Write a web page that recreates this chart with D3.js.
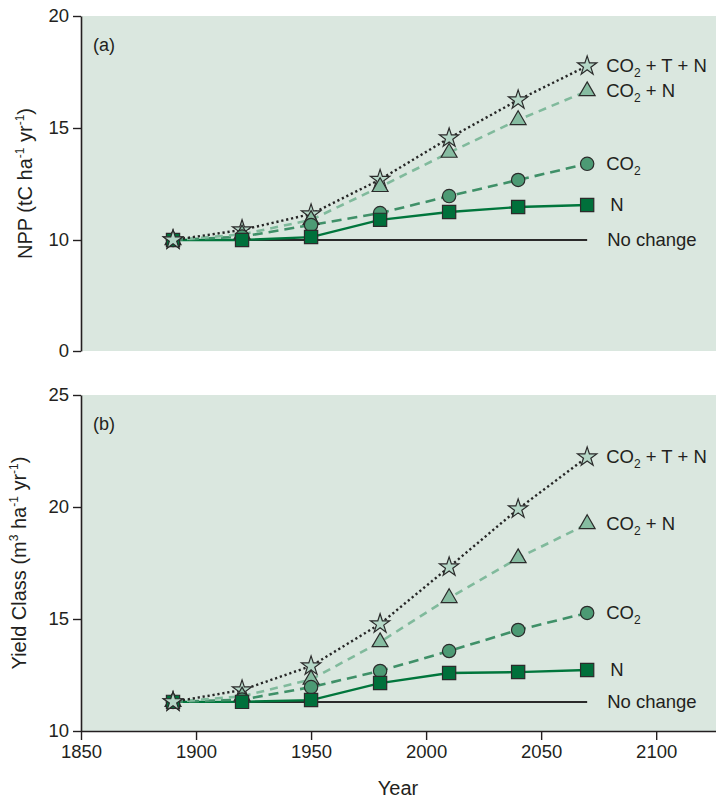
<!DOCTYPE html>
<html>
<head>
<meta charset="utf-8">
<script src="https://cdn.jsdelivr.net/npm/d3@7"></script>
<style>
  body { margin: 0; background: #ffffff; }
  text { font-family: "Liberation Sans", Arial, Helvetica, sans-serif; fill: #231f20; }
</style>
</head>
<body>
<svg id="chart" width="716" height="800"></svg>
<script>
// Projection years
const years = [1890, 1920, 1950, 1980, 2010, 2040, 2070];

// (a) Net primary productivity, tC ha-1 yr-1
const nppNoChange = [10, 10, 10, 10, 10, 10, 10];
const nppN        = [10, 10, 10.13, 10.9, 11.25, 11.47, 11.56];
const nppCO2      = [10, 10.15, 10.67, 11.2, 11.96, 12.68, 13.4];
const nppCO2N     = [10, 10.25, 10.9, 12.37, 13.9, 15.36, 16.65];
const nppCO2TN    = [10, 10.45, 11.16, 12.7, 14.55, 16.25, 17.77];

// (b) Yield class, m3 ha-1 yr-1
const ycNoChange = [11.3, 11.3, 11.3, 11.3, 11.3, 11.3, 11.3];
const ycN        = [11.3, 11.3, 11.38, 12.14, 12.59, 12.63, 12.72];
const ycCO2      = [11.3, 11.4, 11.96, 12.68, 13.57, 14.51, 15.27];
const ycCO2N     = [11.3, 11.55, 12.3, 13.97, 15.94, 17.72, 19.24];
const ycCO2TN    = [11.3, 11.83, 12.9, 14.78, 17.32, 19.91, 22.23];

// Axis ticks
const xTicks = [1850, 1900, 1950, 2000, 2050, 2100];
const nppTicks = [0, 10, 15, 20];
const ycTicks = [10, 15, 20, 25];

// Scenario keys (draw order) and label text parts [main, subscript, rest]
const scenarios = ["none", "N", "CO2", "CO2N", "CO2TN"];
const scenarioLabels = {
  none:  ["No change", "", ""],
  N:     ["N", "", ""],
  CO2:   ["CO", "2", ""],
  CO2N:  ["CO", "2", " + N"],
  CO2TN: ["CO", "2", " + T + N"]
};

// Styling per scenario
const styles = {
  none:  { line: "#2a2a2a", width: 2,   dash: null,      symbol: null,              fill: null,      size: 0,   labelDx: 20 },
  N:     { line: "#00763c", width: 2.4, dash: null,      symbol: d3.symbolSquare,   fill: "#00703b", size: 175, labelDx: 23 },
  CO2:   { line: "#3f9068", width: 2.6, dash: "10,6",    symbol: d3.symbolCircle,   fill: "#4c9a74", size: 140, labelDx: 19 },
  CO2N:  { line: "#80ba9c", width: 2.6, dash: "8,6",     symbol: d3.symbolTriangle, fill: "#86bca1", size: 110, labelDx: 19 },
  CO2TN: { line: "#262626", width: 2.4, dash: "2.2,2.8", symbol: d3.symbolStar,     fill: "#b5d7c7", size: 115, labelDx: 19 }
};

const svg = d3.select("#chart");
const left = 81, right = 716;
const x = d3.scaleLinear().domain([1850, 2126]).range([left, right]);
const bg = "#dae7df";

function drawPanel(opt) {
  const g = svg.append("g");
  const y = opt.y;

  g.append("rect")
    .attr("x", left).attr("y", opt.top)
    .attr("width", right - left).attr("height", opt.bottom - opt.top)
    .attr("fill", bg);

  const line = d3.line().x((d, i) => x(years[i])).y(d => y(d));

  // Lines
  scenarios.forEach(k => {
    const s = styles[k];
    g.append("path")
      .datum(opt.data[k])
      .attr("d", line)
      .attr("fill", "none")
      .attr("stroke", s.line)
      .attr("stroke-width", s.width)
      .attr("stroke-dasharray", s.dash);
  });

  // Markers, stars first so the others sit over them
  const markerOrder = ["CO2TN", "CO2N", "CO2", "N"];
  markerOrder.forEach(k => {
    const s = styles[k];
    g.append("g").selectAll("path")
      .data(opt.data[k])
      .join("path")
      .attr("transform", (d, i) => `translate(${x(years[i])},${y(d)})`)
      .attr("d", d3.symbol(s.symbol, s.size))
      .attr("fill", s.fill)
      .attr("stroke", "#2b2b2b")
      .attr("stroke-width", 1.2);
  });
  // Common starting point: the star marker shows on top
  {
    const s = styles.CO2TN;
    g.append("path")
      .attr("transform", `translate(${x(years[0])},${y(opt.data.CO2TN[0])})`)
      .attr("d", d3.symbol(s.symbol, s.size))
      .attr("fill", s.fill)
      .attr("stroke", "#2b2b2b")
      .attr("stroke-width", 1.2);
  }

  // End-of-line labels
  scenarios.forEach(k => {
    const s = styles[k];
    const vals = opt.data[k];
    const last = vals[vals.length - 1];
    const parts = scenarioLabels[k];
    const t = g.append("text")
      .attr("x", x(years[years.length - 1]) + s.labelDx)
      .attr("y", y(last) + 6)
      .attr("font-size", 18.5);
    t.append("tspan").text(parts[0]);
    if (parts[1]) {
      t.append("tspan").attr("dy", 5).attr("font-size", 12).text(parts[1]);
      if (parts[2]) t.append("tspan").attr("dy", -5).text(parts[2]);
    }
  });

  // Panel tag
  g.append("text")
    .attr("x", 93).attr("y", opt.top + 35)
    .attr("font-size", 18)
    .text(opt.tag);

  // Left axis
  const ay = g.append("g")
    .attr("transform", `translate(${left},0)`)
    .call(d3.axisLeft(y).tickValues(opt.ticks).tickSize(8).tickSizeOuter(0).tickPadding(4));
  ay.selectAll("text").attr("font-size", 18.5).attr("font-family", null).style("fill", "#231f20");
  ay.selectAll("line").attr("stroke", "#231f20").attr("stroke-width", 1.4);
  ay.select(".domain").attr("stroke", "#231f20").attr("stroke-width", 1.6);

  // Y title
  const cy = (opt.top + opt.bottom) / 2;
  const tt = g.append("text")
    .attr("transform", `translate(${opt.titleX},${cy}) rotate(-90)`)
    .attr("text-anchor", "middle")
    .attr("font-size", 20);
  opt.title.forEach(p => {
    const sp = tt.append("tspan").text(p[0]);
    if (p[1] === "sup") sp.attr("font-size", 12).attr("dy", -8);
    if (p[1] === "base") sp.attr("dy", 8);
  });

  return g;
}

drawPanel({
  top: 16, bottom: 351,
  y: d3.scaleLinear().domain([0, 10, 20]).range([351, 240, 16]),
  ticks: nppTicks,
  tag: "(a)",
  data: { none: nppNoChange, N: nppN, CO2: nppCO2, CO2N: nppCO2N, CO2TN: nppCO2TN },
  titleX: 32,
  title: [["NPP (tC ha"], ["-1", "sup"], [" yr", "base"], ["-1", "sup"], [")", "base"]]
});

drawPanel({
  top: 395, bottom: 731,
  y: d3.scaleLinear().domain([10, 25]).range([731, 395]),
  ticks: ycTicks,
  tag: "(b)",
  data: { none: ycNoChange, N: ycN, CO2: ycCO2, CO2N: ycCO2N, CO2TN: ycCO2TN },
  titleX: 26,
  title: [["Yield Class (m"], ["3", "sup"], [" ha", "base"], ["-1", "sup"], [" yr", "base"], ["-1", "sup"], [")", "base"]]
});

// Shared year axis under panel (b)
const ax = svg.append("g")
  .attr("transform", "translate(0,731)")
  .call(d3.axisBottom(x).tickValues(xTicks).tickFormat(d3.format("d")).tickSize(9).tickSizeOuter(0).tickPadding(5));
ax.selectAll("text").attr("font-size", 18.5).attr("font-family", null).style("fill", "#231f20");
ax.selectAll("line").attr("stroke", "#231f20").attr("stroke-width", 1.4);
ax.select(".domain").attr("stroke", "#231f20").attr("stroke-width", 1.6);

svg.append("text")
  .attr("x", 398).attr("y", 795)
  .attr("text-anchor", "middle")
  .attr("font-size", 20)
  .text("Year");
</script>
</body>
</html>
